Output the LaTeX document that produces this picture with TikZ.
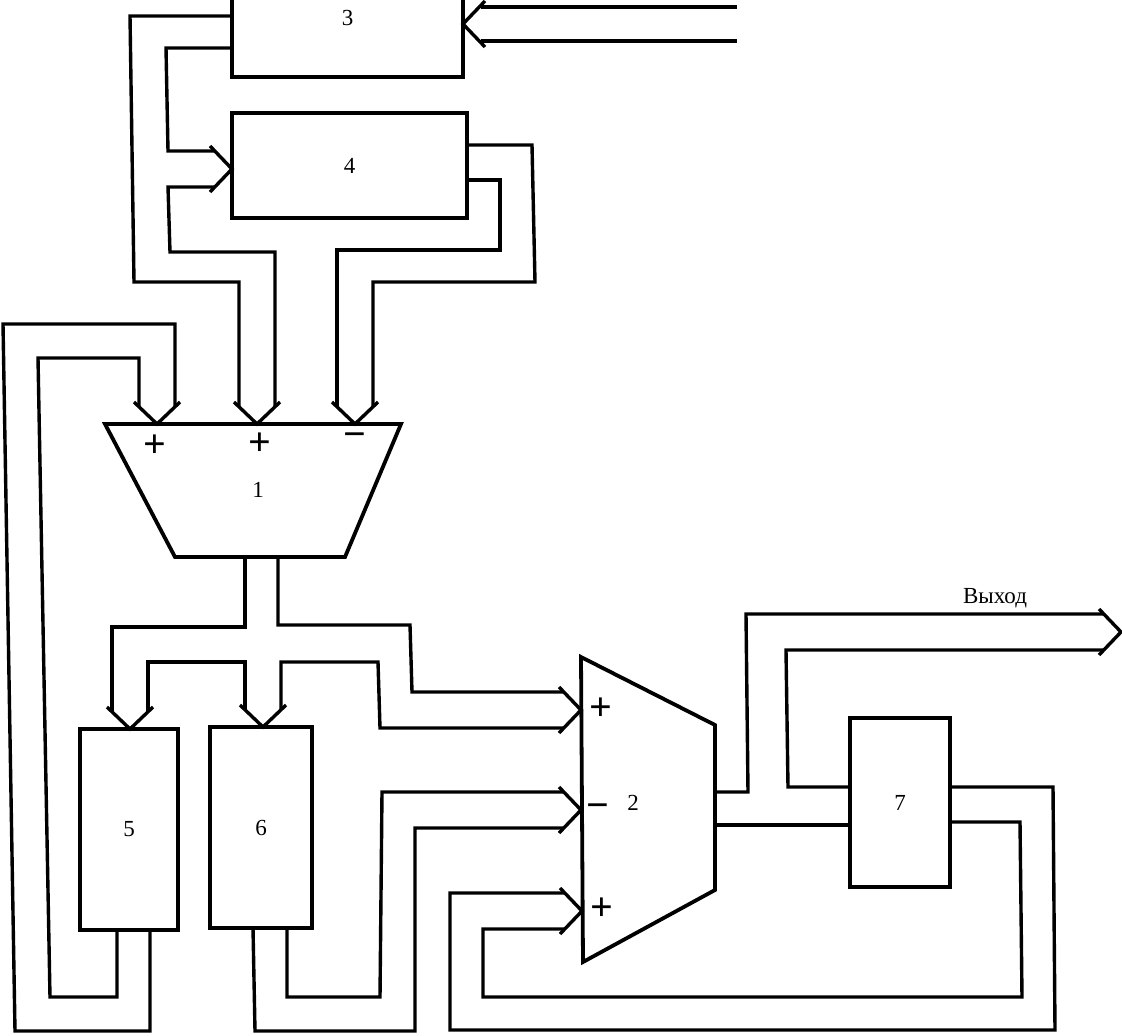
\documentclass[tikz,border=0pt]{standalone}
\usepackage{fontspec}
\setmainfont{Liberation Serif}
\usepackage{tikz}
\usetikzlibrary{calc}

\begin{document}
\begin{tikzpicture}[x=1pt, y=-1pt,
  wire/.style={line width=3.4pt, line join=miter},
  blk/.style={draw, line width=3.8pt, inner sep=0pt, outer sep=0pt,
    font=\fontsize{23}{25}\selectfont},
  lbl/.style={font=\fontsize{23}{25}\selectfont, inner sep=1pt},
  sgn/.style={font=\fontsize{40}{40}\selectfont\bfseries, inner sep=0pt},
  chev/.pic={\draw[wire] (-22,-23) -- (0,0) -- (-22,23);},
]
\useasboundingbox (0,0) rectangle (1122,1036);
\clip (0,0) rectangle (1122,1036);
% blocks
\node[blk, minimum width=231, minimum height=118] (b3) at (347.5,18) {3};
\node[blk, minimum width=235, minimum height=105] (b4) at (349.5,165.5) {4};
\node[blk, minimum width=98, minimum height=201] (b5) at (129,829.5) {5};
\node[blk, minimum width=102, minimum height=201] (b6) at (261,827.5) {6};
\node[blk, minimum width=100, minimum height=169] (b7) at (900,802.5) {7};
% adders
\coordinate (s1a) at (105,424);
\coordinate (s1b) at (401,424);
\coordinate (s1c) at (345,557);
\coordinate (s1d) at (175,557);
\draw[line width=3.8pt, line join=miter] (s1a) -- (s1b) -- (s1c) -- (s1d) -- cycle;
\node[lbl] (n1) at (258,490) {1};
\coordinate (s2a) at (581,657);
\coordinate (s2b) at (715,725);
\coordinate (s2c) at (715,890);
\coordinate (s2d) at (583,962);
\draw[line width=3.8pt, line join=miter] (s2a) -- (s2b) -- (s2c) -- (s2d) -- cycle;
\node[lbl] (n2) at (633,803) {2};
\node[sgn] (p1a) at (155,446) {+};
\node[sgn] (p1b) at (260,444) {+};
\node[sgn] (m1c) at (355,440) {−};
\node[sgn] (p2a) at (601,709) {+};
\node[sgn] (m2b) at (598,811) {−};
\node[sgn] (p2c) at (602,909) {+};
% arrow tips
\coordinate (t3) at (b3.east |- 0,24);
\coordinate (t4) at (b4.west |- 0,169);
\coordinate (t1a) at (157,424);
\coordinate (t1b) at (257,424);
\coordinate (t1c) at (355,424);
\coordinate (t5) at (130,0 |- b5.north);
\coordinate (t6) at (263,0 |- b6.north);
\coordinate (t2a) at (581,710);
\coordinate (t2b) at (581,810);
\coordinate (t2c) at (582,911);
\coordinate (tout) at (1121,632);
\pic[rotate=180] at (t3) {chev};
\pic at (t4) {chev};
\pic[rotate=-90] at (t1a) {chev};
\pic[rotate=-90] at (t1b) {chev};
\pic[rotate=-90] at (t1c) {chev};
\pic[rotate=-90] at (t5) {chev};
\pic[rotate=-90] at (t6) {chev};
\pic at (t2a) {chev};
\pic at (t2b) {chev};
\pic at (t2c) {chev};
\pic at (tout) {chev};
% input to 3
\draw[wire] (737,7) -- ($(t3)+(18,-17)$);
\draw[wire] (737,41) -- ($(t3)+(18,17)$);
% 3 -> 4, 3 -> 1
\draw[wire] (b3.west |- 0,16) -- (130,16) -- (134,282) -- (239,282) -- ($(t1b)+(-18,-18)$);
\draw[wire] (b3.west |- 0,48) -- (166,48) -- (168,151) -- ($(t4)+(-18,-18)$);
\draw[wire] ($(t4)+(-18,18)$) -- (168,187) -- (170,252) -- (275,252) -- ($(t1b)+(18,-18)$);
% 4 -> 1
\draw[wire] (b4.east |- 0,145) -- (532,145) -- (535,282) -- (373,282) -- ($(t1c)+(18,-18)$);
\draw[wire] (b4.east |- 0,180) -- (500,180) -- (500,250) -- (337,250) -- ($(t1c)+(-18,-18)$);
% 5 -> 1
\draw[wire] (117,0 |- b5.south) -- (117,997) -- (50,997) -- (38,358) -- (139,358) -- ($(t1a)+(-18,-18)$);
\draw[wire] (150,0 |- b5.south) -- (150,1031) -- (15,1031) -- (3,324) -- (175,324) -- ($(t1a)+(18,-18)$);
% 1 -> 5, 6, 2
\draw[wire] (245,0 |- s1d) -- (245,627) -- (112,627) -- ($(t5)+(-18,-18)$);
\draw[wire] ($(t5)+(18,-18)$) -- (148,662) -- (245,662) -- ($(t6)+(-18,-18)$);
\draw[wire] ($(t6)+(18,-18)$) -- (281,662) -- (378,662) -- (380,728) -- ($(t2a)+(-18,18)$);
\draw[wire] (278,0 |- s1d) -- (278,625) -- (410,625) -- (412,692) -- ($(t2a)+(-18,-18)$);
% 6 -> 2
\draw[wire] (287,0 |- b6.south) -- (287,997) -- (380,997) -- (382,792) -- ($(t2b)+(-18,-18)$);
\draw[wire] (253,0 |- b6.south) -- (255,1031) -- (415,1031) -- (415,828) -- ($(t2b)+(-18,18)$);
% 7 -> 2
\draw[wire] (b7.east |- 0,787) -- (1053,787) -- (1055,1030) -- (450,1030) -- (450,893) -- ($(t2c)+(-18,-18)$);
\draw[wire] (b7.east |- 0,822) -- (1020,822) -- (1022,997) -- (483,997) -- (483,929) -- ($(t2c)+(-18,18)$);
% 2 -> 7, output
\draw[wire] (s2b |- 0,792) -- (748,792) -- (746,614) -- ($(tout)+(-18,-18)$);
\draw[wire] (b7.west |- 0,787) -- (788,787) -- (786,650) -- ($(tout)+(-18,18)$);
\draw[wire] (s2b |- 0,825) -- (b7.west |- 0,825);
\node[lbl] (out) at (995,598) {Выход};
\end{tikzpicture}
\end{document}
